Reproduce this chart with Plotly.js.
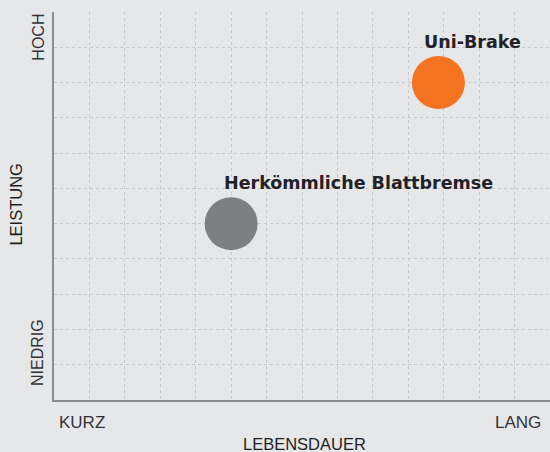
<!DOCTYPE html>
<html>
<head>
<meta charset="utf-8">
<script src="https://cdn.plot.ly/plotly-3.0.1.min.js"></script>
<style>html,body{margin:0;padding:0;background:#e6e7e9;}#chart{width:550px;height:452px;}</style>
</head>
<body>
<div id="chart"></div>
<script>
const names = ["Herkömmliche Blattbremse", "Uni-Brake"];
const lifetime = [5, 10.85];
const performance = [5, 9];
const colors = ["#7e7f82", "#f47321"];
const xEndLabels = ["KURZ", "LANG"];
const yEndLabels = ["NIEDRIG", "HOCH"];
const xTitle = "LEBENSDAUER";
const yTitle = "LEISTUNG";

const trace = {
  x: lifetime, y: performance, mode: "markers", type: "scatter",
  marker: {size: 53, color: colors, line: {width: 0}},
  hoverinfo: "none", cliponaxis: false
};

const labelStyle = [
  {xanchor: "left", xshift: -9, yshift: 41},
  {xanchor: "center", xshift: 34, yshift: 41}
];
const pointLabels = names.map((n, i) => Object.assign({
  text: n, x: lifetime[i], y: performance[i], xref: "x", yref: "y", yanchor: "middle", showarrow: false,
  font: {family: "DejaVu Sans", size: 17.5, color: "#222226", weight: 700}
}, labelStyle[i]));

const grid = {showgrid: true, gridcolor: "#c6c7ca", griddash: "dot", gridwidth: 1, dtick: 1, tick0: 0,
  showticklabels: false, ticks: "", zeroline: false, fixedrange: true};

const axFont = {family: "Liberation Sans, Arial, sans-serif", size: 17, color: "#333336"};
const layout = {
  width: 550, height: 452,
  margin: {l: 54, r: 0, t: 12, b: 52},
  paper_bgcolor: "#e6e7e9", plot_bgcolor: "#e6e7e9",
  showlegend: false,
  xaxis: Object.assign({}, grid, {range: [0, 14], showline: true, linecolor: "#8b8c8f", linewidth: 2}),
  yaxis: Object.assign({}, grid, {range: [0, 11], showline: true, linecolor: "#8b8c8f", linewidth: 2}),
  annotations: pointLabels.concat([
    {text: xEndLabels[0], xref: "paper", yref: "paper", x: 0.006, y: -0.028, xanchor: "left", yanchor: "top", showarrow: false, font: axFont},
    {text: xEndLabels[1], xref: "paper", yref: "paper", x: 0.985, y: -0.028, xanchor: "right", yanchor: "top", showarrow: false, font: axFont},
    {text: yEndLabels[0], xref: "paper", yref: "paper", x: -0.032, y: 0.03, xanchor: "center", yanchor: "bottom", textangle: -90, showarrow: false,
     font: {family: "Liberation Sans, Arial, sans-serif", size: 16, color: "#333336"}},
    {text: yEndLabels[1], xref: "paper", yref: "paper", x: -0.032, y: 1.0, xanchor: "center", yanchor: "top", textangle: -90, showarrow: false,
     font: {family: "Liberation Sans, Arial, sans-serif", size: 16, color: "#333336"}},
    {text: xTitle, xref: "paper", yref: "paper", x: 0.505, y: -0.085, xanchor: "center", yanchor: "top", showarrow: false,
     font: {family: "Liberation Sans, Arial, sans-serif", size: 16.5, color: "#1f1f22", weight: 500}},
    {text: yTitle, xref: "paper", yref: "paper", x: -0.0756, y: 0.505, xanchor: "center", yanchor: "middle", textangle: -90, showarrow: false,
     font: {family: "Liberation Sans, Arial, sans-serif", size: 16.5, color: "#1f1f22", weight: 500}}
  ])
};

Plotly.newPlot("chart", [trace], layout, {displayModeBar: false, staticPlot: true});
</script>
</body>
</html>
